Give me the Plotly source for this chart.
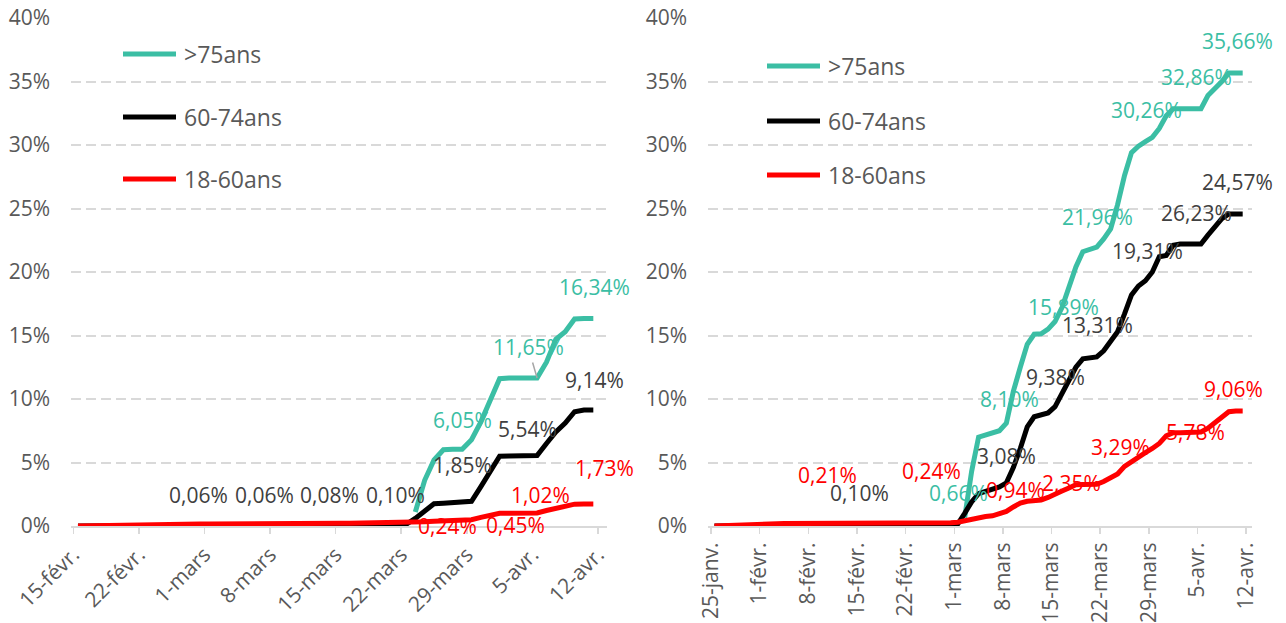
import pandas as pd
import plotly.graph_objects as go

# ---------------- DATA ----------------
series_names = [">75ans", "60-74ans", "18-60ans"]

# Left chart (daily, 15 Feb -> 11 Apr)
LEFT_START = "2021-02-15"
left_60_74 = [0.00, 0.01, 0.01, 0.02, 0.02, 0.03, 0.03, 0.04, 0.04, 0.04, 0.05, 0.05, 0.05,
              0.06, 0.06, 0.06, 0.06, 0.06, 0.06, 0.06,
              0.06, 0.06, 0.07, 0.07, 0.07, 0.07, 0.08,
              0.08, 0.08, 0.08, 0.09, 0.09, 0.09, 0.10,
              0.10, 0.12, 0.60, 1.20, 1.75, 1.80, 1.83, 1.85, 1.95, 3.10, 4.30, 5.50,
              5.52, 5.53, 5.54, 5.55, 6.50, 7.40, 8.10, 9.00, 9.14, 9.14]
left_18_60 = [0.00, 0.02, 0.04, 0.06, 0.07, 0.08, 0.09, 0.10, 0.11, 0.12, 0.13, 0.14, 0.15, 0.16,
              0.16, 0.17, 0.17, 0.17, 0.18, 0.18, 0.18,
              0.19, 0.19, 0.19, 0.20, 0.20, 0.20, 0.21,
              0.21, 0.21, 0.22, 0.22, 0.23, 0.23, 0.24,
              0.25, 0.30, 0.34, 0.38, 0.41, 0.43, 0.45,
              0.50, 0.68, 0.86, 1.00, 1.01, 1.02, 1.02,
              1.03, 1.22, 1.42, 1.60, 1.72, 1.73, 1.73]
LEFT_75_START = "2021-03-23"
left_75 = [1.10, 3.60, 5.20, 6.00, 6.05, 6.05, 6.80, 8.20, 9.90, 11.60,
           11.65, 11.65, 11.65, 11.65, 12.90, 14.70, 15.30, 16.30, 16.34, 16.34]

# Right chart (daily, 25 Jan -> 11 Apr)
RIGHT_START = "2021-01-25"
right_60_74 = [0.00, 0.01, 0.02, 0.03, 0.04, 0.05, 0.06,
               0.06, 0.07, 0.07, 0.08, 0.08, 0.08, 0.09,
               0.09, 0.09, 0.09, 0.10, 0.10, 0.10, 0.10,
               0.10, 0.10, 0.10, 0.11, 0.11, 0.11, 0.11,
               0.11, 0.11, 0.11, 0.12, 0.12, 0.12, 0.12,
               0.15, 1.00, 1.90, 2.55, 2.75, 2.85, 3.08,
               3.40, 4.60, 6.10, 7.80, 8.60, 8.70, 8.90,
               9.40, 10.40, 11.60, 12.50, 13.16, 13.20, 13.31,
               13.80, 14.50, 15.30, 16.70, 18.20, 18.90, 19.31,
               20.00, 21.20, 21.30, 22.10, 22.20, 22.20, 22.20,
               22.20, 22.90, 23.60, 24.20, 24.57, 24.57, 24.57]
right_18_60 = [0.00, 0.03, 0.06, 0.09, 0.11, 0.13, 0.15,
               0.16, 0.17, 0.18, 0.19, 0.19, 0.20, 0.21,
               0.21, 0.21, 0.21, 0.21, 0.22, 0.22, 0.22,
               0.22, 0.22, 0.23, 0.23, 0.23, 0.24, 0.24,
               0.24, 0.24, 0.24, 0.25, 0.25, 0.25, 0.25,
               0.30, 0.42, 0.60, 0.70, 0.75, 0.80, 0.94,
               1.15, 1.50, 1.80, 1.95, 2.00, 2.05, 2.25,
               2.45, 2.75, 3.00, 3.25, 3.27, 3.28, 3.29,
               3.50, 3.80, 4.10, 4.70, 5.10, 5.50, 5.78,
               6.10, 6.50, 7.10, 7.35, 7.35, 7.35, 7.35,
               7.40, 7.70, 8.10, 8.60, 9.00, 9.06, 9.06]
RIGHT_75_START = "2021-03-02"
right_75 = [0.66, 4.30, 7.00, 7.20, 7.35, 7.50,
            8.10, 10.60, 12.50, 14.30, 15.10, 15.13, 15.50,
            16.10, 17.20, 18.80, 20.40, 21.60, 21.80, 21.96,
            22.60, 23.40, 25.30, 27.60, 29.40, 29.90, 30.26,
            30.60, 31.30, 32.30, 32.86, 32.86, 32.86, 32.86,
            32.86, 33.90, 34.40, 35.00, 35.66, 35.66, 35.66]

# Axis ticks
y_ticks = [0, 5, 10, 15, 20, 25, 30, 35, 40]
y_tick_text = ["0%", "5%", "10%", "15%", "20%", "25%", "30%", "35%", "40%"]
left_tick_dates = ["2021-02-15", "2021-02-22", "2021-03-01", "2021-03-08", "2021-03-15",
                   "2021-03-22", "2021-03-29", "2021-04-05", "2021-04-12"]
left_tick_text = ["15-févr.", "22-févr.", "1-mars", "8-mars", "15-mars",
                  "22-mars", "29-mars", "5-avr.", "12-avr."]
right_tick_dates = ["2021-01-25", "2021-02-01", "2021-02-08", "2021-02-15", "2021-02-22",
                    "2021-03-01", "2021-03-08", "2021-03-15", "2021-03-22", "2021-03-29",
                    "2021-04-05", "2021-04-12"]
right_tick_text = ["25-janv.", "1-févr.", "8-févr.", "15-févr.", "22-févr.", "1-mars",
                   "8-mars", "15-mars", "22-mars", "29-mars", "5-avr.", "12-avr."]

# Data labels (date of point, label text)
left_lab_75 = [("2021-03-28", "6,05%"), ("2021-04-05", "11,65%"), ("2021-04-11", "16,34%")]
left_lab_60 = [("2021-02-28", "0,06%"), ("2021-03-07", "0,06%"), ("2021-03-14", "0,08%"),
               ("2021-03-21", "0,10%"), ("2021-03-28", "1,85%"), ("2021-04-04", "5,54%"),
               ("2021-04-11", "9,14%")]
left_lab_18 = [("2021-03-21", "0,24%"), ("2021-03-28", "0,45%"), ("2021-04-04", "1,02%"),
               ("2021-04-11", "1,73%")]
right_lab_75 = [("2021-03-02", "0,66%"), ("2021-03-07", "8,10%"), ("2021-03-14", "15,89%"),
                ("2021-03-21", "21,96%"), ("2021-03-28", "30,26%"), ("2021-04-04", "32,86%"),
                ("2021-04-11", "35,66%")]
right_lab_60 = [("2021-02-14", "0,10%"), ("2021-03-07", "3,08%"), ("2021-03-14", "9,38%"),
                ("2021-03-21", "13,31%"), ("2021-03-28", "19,31%"), ("2021-04-04", "26,23%"),
                ("2021-04-11", "24,57%")]
right_lab_18 = [("2021-02-07", "0,21%"), ("2021-02-21", "0,24%"), ("2021-03-07", "0,94%"),
                ("2021-03-14", "2,35%"), ("2021-03-21", "3,29%"), ("2021-03-28", "5,78%"),
                ("2021-04-11", "9,06%")]

# ---------------- STYLE ----------------
TEAL = "#3BBEA4"
BLACK = "#000000"
RED = "#FF0000"
LABEL_COLORS = [TEAL, "#404040", RED]
LINE_COLORS = [TEAL, BLACK, RED]
GRID = "#D9D9D9"
TXT = "#595959"
FONT = "Open Sans"
W, H = 1286, 623
PLOT_TOP, PLOT_BOTTOM = 18, 526

# label pixel offsets (dx right, dy down), same order as label lists
left_off_75 = [(0, -29), (-9, -31), (1, -31)]
left_off_60 = [(-1, -30), (-1, -30), (-1, -30), (-1, -30), (0, -38), (0, -27), (1, -30)]
left_off_18 = [(51, 3), (53, 5), (13, -18), (11, -36)]
right_off_75 = [(-6, -25), (10, -32), (15, -22), (1, -30), (1, -32), (2, -32), (-5, -32)]
right_off_60 = [(6, -32), (7, -31), (7, -36), (1, -32), (2, -30), (2, -31), (-5, -32)]
right_off_18 = [(23, -48), (29, -52), (16, -24), (23, -14), (24, -37), (50, -21), (-9, -22)]

HALF_DAY = pd.Timedelta(hours=12)


def series(start, values):
    dates = pd.date_range(start, periods=len(values), freq="D") + HALF_DAY
    return pd.Series(values, index=dates)


left_series = [series(LEFT_75_START, left_75), series(LEFT_START, left_60_74),
               series(LEFT_START, left_18_60)]
right_series = [series(RIGHT_75_START, right_75), series(RIGHT_START, right_60_74),
                series(RIGHT_START, right_18_60)]

fig = go.Figure()
for axes, sers in ((("x", "y"), left_series), (("x2", "y2"), right_series)):
    for name, s, col in zip(series_names, sers, LINE_COLORS):
        fig.add_trace(go.Scatter(x=s.index, y=s.values, mode="lines", name=name,
                                 line=dict(color=col, width=5), xaxis=axes[0], yaxis=axes[1],
                                 showlegend=False, hoverinfo="skip"))

annotations = []


def add_labels(sers, lab_lists, off_lists, xref, yref):
    for k, (s, labs, offs) in enumerate(zip(sers, lab_lists, off_lists)):
        for (d, txt), (dx, dy) in zip(labs, offs):
            xd = pd.Timestamp(d) + HALF_DAY
            yv = float(s.loc[xd])
            a = dict(x=xd, y=yv, xref=xref, yref=yref, text=txt,
                     font=dict(family=FONT, size=21, color=LABEL_COLORS[k]),
                     xanchor="center", yanchor="middle")
            if txt == "11,65%":
                a.update(showarrow=True, arrowhead=0, arrowwidth=1.5, arrowcolor="#A6A6A6",
                         ax=dx, ay=dy, standoff=0)
            else:
                a.update(showarrow=False, xshift=dx, yshift=-dy)
            annotations.append(a)


add_labels(left_series, [left_lab_75, left_lab_60, left_lab_18],
           [left_off_75, left_off_60, left_off_18], "x", "y")
add_labels(right_series, [right_lab_75, right_lab_60, right_lab_18],
           [right_off_75, right_off_60, right_off_18], "x2", "y2")

# manual legends (one per panel); paper y is relative to the plot area
PH = PLOT_BOTTOM - PLOT_TOP


def py(ypx):
    return 1 - (ypx - PLOT_TOP) / PH


shapes = []
legend_pos = [(123, 176, 182, [54, 117, 179]), (767, 820, 826, [66, 121, 175])]
for x0, x1, xt, ys in legend_pos:
    for name, col, yy in zip(series_names, LINE_COLORS, ys):
        shapes.append(dict(type="line", xref="paper", yref="paper", x0=x0 / W, x1=x1 / W,
                           y0=py(yy), y1=py(yy), line=dict(color=col, width=5)))
        annotations.append(dict(x=xt / W, y=py(yy), xref="paper", yref="paper", text=name,
                                showarrow=False, xanchor="left", yanchor="middle",
                                font=dict(family=FONT, size=23, color=TXT)))


def xaxis(domain_px, start, lo, hi, tickdates, ticktext, angle):
    return dict(domain=[domain_px[0] / W, domain_px[1] / W], type="date",
                range=[pd.Timestamp(start) + pd.Timedelta(days=lo),
                       pd.Timestamp(start) + pd.Timedelta(days=hi)],
                tickmode="array", tickvals=tickdates, ticktext=ticktext, tickangle=angle,
                showgrid=False, zeroline=False, showline=True, linecolor=GRID, linewidth=2,
                ticks="outside", ticklen=6, tickwidth=1.5, tickcolor=GRID,
                tickfont=dict(family=FONT, size=21, color=TXT), layer="below traces",
                automargin=False, fixedrange=True)


def yaxis(anchor):
    return dict(anchor=anchor, domain=[0, 1], range=[0, 40], tickmode="array", tickvals=y_ticks,
                ticktext=y_tick_text, showgrid=True, gridcolor=GRID, gridwidth=2,
                griddash="10px,5px", zeroline=False, showline=False, ticks="",
                ticklabelstandoff=20, tickfont=dict(family=FONT, size=21, color=TXT),
                layer="below traces", automargin=False, fixedrange=True)


fig.update_layout(
    width=W, height=H, paper_bgcolor="white", plot_bgcolor="white",
    margin=dict(l=0, r=0, t=PLOT_TOP, b=H - PLOT_BOTTOM),
    xaxis=dict(anchor="y", **xaxis((71, 607), LEFT_START, -0.245, 56.96,
                                   left_tick_dates, left_tick_text, -45)),
    yaxis=yaxis("x"),
    xaxis2=dict(anchor="y2", **xaxis((708, 1252), RIGHT_START, -0.43, 77.84,
                                     right_tick_dates, right_tick_text, -90)),
    yaxis2=yaxis("x2"),
    annotations=annotations, shapes=shapes, showlegend=False,
    font=dict(family=FONT, color=TXT),
)

fig.write_html("out.html", config={"displayModeBar": False, "staticPlot": True},
               post_script="document.body.style.margin='0';document.body.style.overflow='hidden';")
